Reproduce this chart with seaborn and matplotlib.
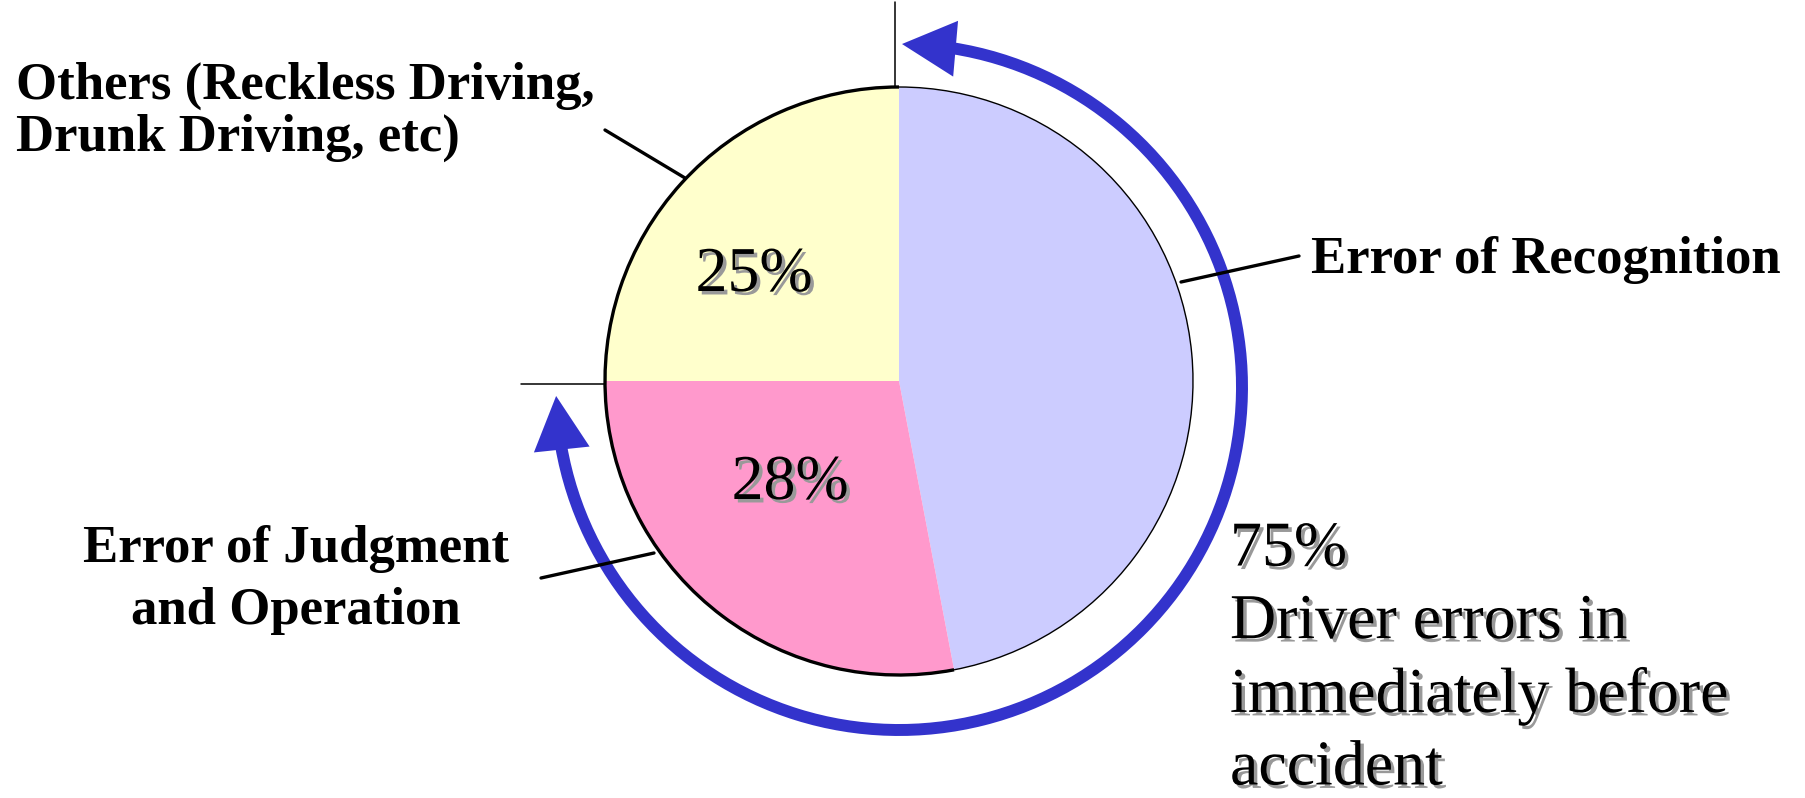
import matplotlib
matplotlib.use("Agg")
import matplotlib.pyplot as plt
import matplotlib.patheffects as pe
from matplotlib.patches import Arc, Polygon
import numpy as np
import seaborn as sns

# slice data (clockwise from 12 o'clock)
categories = ['Error of Recognition', 'Error of Judgment\nand Operation',
              'Others (Reckless Driving,\nDrunk Driving, etc)']
shares = [47, 28, 25]
slice_colors = ['#CCCCFF', '#FF99CC', '#FFFFCC']
driver_total = shares[0] + shares[1]
driver_note = 'Driver errors in\nimmediately before\naccident'

sns.set_theme(style='white')
serif = 'Liberation Serif'
plt.rcParams['font.family'] = serif
plt.rcParams['text.color'] = 'black'

W, H = 1806, 798
fig = plt.figure(figsize=(W / 100, H / 100), dpi=100)
ax = fig.add_axes([0, 0, 1, 1])

cx, cy, r = 899, 417, 294
ax.pie(shares, colors=slice_colors, startangle=90, counterclock=False,
       center=(cx, cy), radius=r, wedgeprops=dict(linewidth=0))
ax.set_xlim(0, W)
ax.set_ylim(0, H)
ax.set_aspect('auto')
ax.axis('off')

# outline: thick on the left half, thin on recognition slice
end_pink = 90 + 360 * (shares[1] + shares[2]) / 100
ax.add_patch(Arc((cx, cy), 2 * r, 2 * r, theta1=90, theta2=end_pink, lw=2.4, color='black', zorder=3))
ax.add_patch(Arc((cx, cy), 2 * r, 2 * r, theta1=end_pink, theta2=90, lw=1.0, color='black', zorder=3))

# thin extension lines at the slice boundaries
ax.plot([cx - 4, cx - 4], [cy + r, cy + r + 85], color='black', lw=1.1)
ax.plot([cx - r - 84, cx - r], [cy - 3, cy - 3], color='black', lw=1.1)

# blue arrow arc around the driver-error share
blue = '#3333CC'
acx, acy, ar = 899, 411, 343
ax.add_patch(Arc((acx, acy), 2 * ar, 2 * ar, theta1=190, theta2=81, lw=8.6, color=blue, zorder=2))


def head(a_base, a_tip, width):
    b = np.deg2rad(a_base)
    t = np.deg2rad(a_tip)
    base = np.array([acx + ar * np.cos(b), acy + ar * np.sin(b)])
    tip = np.array([acx + ar * np.cos(t), acy + ar * np.sin(t)])
    d = tip - base
    n = np.array([-d[1], d[0]]) / np.hypot(*d)
    pts = [tip, base + n * width / 2, base - n * width / 2]
    ax.add_patch(Polygon(pts, closed=True, color=blue, lw=0, zorder=2))


head(80.5, 89.5, 56)
head(190.5, 181.5, 56)

# leader lines
lw_lead = 2.4
ax.plot([605, 685], [H - 130, H - 178], color='black', lw=lw_lead)
ax.plot([1181, 1299], [H - 282, H - 256], color='black', lw=lw_lead)
ax.plot([541, 654], [H - 578, H - 553], color='black', lw=lw_lead)

shadow = [pe.SimplePatchShadow(offset=(2.5, -2.5), shadow_rgbFace='#999999', alpha=1.0), pe.Normal()]

ax.text(16, H - 112, categories[2], fontsize=38, fontweight='bold', ha='left', va='center',
        linespacing=1.10, family=serif, color='black')
ax.text(1311, H - 260, categories[0], fontsize=38, fontweight='bold', ha='left', va='center',
        family=serif, color='black')
ax.text(296, H - 580, categories[1], fontsize=38, fontweight='bold', ha='center', va='center',
        multialignment='center', linespacing=1.38, family=serif, color='black')

ax.text(754, H - 276, f'{shares[2]}%', fontsize=46, ha='center', va='center', path_effects=shadow,
        family=serif, color='black')
ax.text(790, H - 484, f'{shares[1]}%', fontsize=46, ha='center', va='center', path_effects=shadow,
        family=serif, color='black')
ax.text(1230, H - 660, f'{driver_total}%\n' + driver_note, fontsize=46, ha='left', va='center',
        linespacing=1.33, path_effects=shadow, family=serif, color='black')

fig.savefig('out.png', dpi=100)
